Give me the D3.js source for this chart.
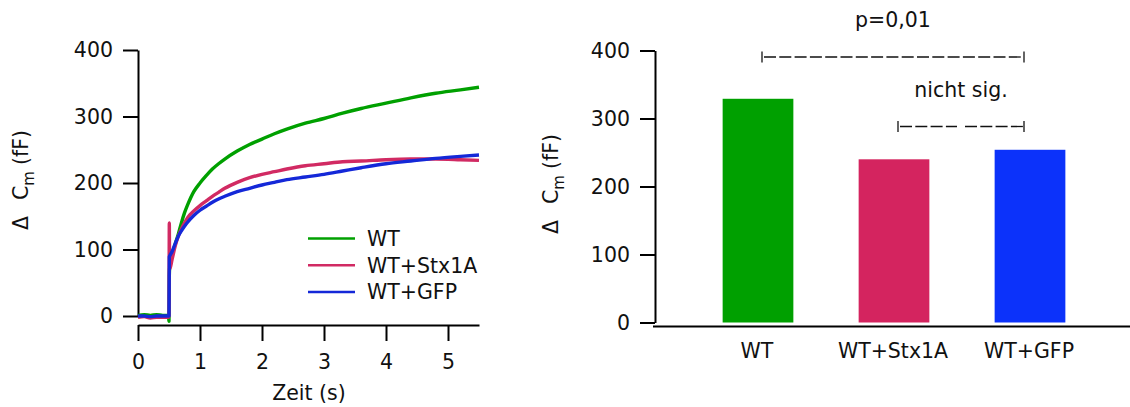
<!DOCTYPE html>
<html>
<head>
<meta charset="utf-8">
<script src="https://cdn.jsdelivr.net/npm/d3@7"></script>
<style>
  html, body { margin: 0; padding: 0; background: #fff; }
  svg { display: block; font-family: "DejaVu Sans", Verdana, sans-serif; }
</style>
</head>
<body>
<svg id="chart" width="1130" height="407"></svg>
<script>
// Capacitance traces (time in s, ΔCm in fF)
const traceTime  = [0, 0.1, 0.2, 0.3, 0.4, 0.49, 0.5, 0.505, 0.51, 0.55, 0.6, 0.65, 0.7, 0.75, 0.8, 0.9, 1.0, 1.1, 1.2, 1.3, 1.4, 1.6, 1.8, 2.0, 2.2, 2.4, 2.7, 3.0, 3.3, 3.6, 4.0, 4.4, 4.8, 5.2, 5.5];
const traceWT    = [1, 2, 1, 2, 1, 1, -8, 60, 72, 92, 108, 123, 140, 155, 167, 187, 200, 211, 221, 229, 236, 248, 258, 266, 274, 281, 290, 297, 305, 312, 320, 328, 335, 340, 344];
const traceStx1A = [-2, -1, -3, -2, -2, -2, 0, 140, 70, 85, 105, 120, 131, 140, 148, 158, 166, 173, 180, 186, 192, 201, 208, 213, 217, 221, 226, 229, 232, 233, 235, 236, 236, 235, 234];
const traceGFP   = [0, 0, -1, 0, 0, 0, 0, 89, 90, 97, 109, 120, 128, 135, 141, 151, 159, 165, 171, 176, 180, 187, 192, 197, 201, 205, 209, 213, 218, 223, 229, 233, 237, 240, 242];

// Bar summary
const categories = ["WT", "WT+Stx1A", "WT+GFP"];
const barValues  = [329, 240, 254];
const colors     = ["#00a000", "#d4245f", "#0c32fa"];
const lineColors = ["#00a000", "#d12a63", "#1428d8"];

const yTicks = [0, 100, 200, 300, 400];
const xTicks = [0, 1, 2, 3, 4, 5];

const svg = d3.select("#chart");
const FONT = 20.5;

function styleAxis(g) {
  g.select(".domain").attr("stroke-width", 2);
  g.selectAll(".tick line").attr("stroke-width", 2);
  g.selectAll(".tick text").attr("font-size", FONT).attr("font-family", "DejaVu Sans").attr("fill", "#111");
}

// ---------- Left panel: traces ----------
const xL = d3.scaleLinear().domain([0, 5.5]).range([138, 479]);
const yL = d3.scaleLinear().domain([0, 400]).range([316, 50]);

const left = svg.append("g");

left.append("g").attr("transform", "translate(138,0)")
  .call(d3.axisLeft(yL).tickValues(yTicks).tickSize(15).tickSizeOuter(0).tickPadding(10).tickFormat(d3.format("d")))
  .call(styleAxis);

left.append("g").attr("transform", "translate(0,325)")
  .call(d3.axisBottom(xL).tickValues(xTicks).tickSize(16).tickSizeOuter(0).tickPadding(13).tickFormat(d3.format("d")))
  .call(styleAxis);

left.append("text").attr("x", 309).attr("y", 400).attr("text-anchor", "middle")
  .attr("font-size", FONT).attr("fill", "#111").text("Zeit (s)");

function yLabel(g, x, y) {
  const t = g.append("text").attr("transform", `translate(${x},${y}) rotate(-90)`)
    .attr("text-anchor", "middle").attr("font-size", FONT).attr("fill", "#111");
  t.append("tspan").text("\u0394");
  t.append("tspan").attr("dx", 16).text("C");
  t.append("tspan").attr("dy", 6).attr("font-size", 15).text("m");
  t.append("tspan").attr("dy", -6).attr("dx", 6).text("(fF)");
}
yLabel(left, 28, 180);

const series = [traceWT, traceStx1A, traceGFP];
const line = d3.line().x((d, i) => xL(traceTime[i])).y(d => yL(d)).curve(d3.curveMonotoneX);
series.forEach((s, k) => {
  left.append("path").datum(s).attr("d", line)
    .attr("fill", "none").attr("stroke", lineColors[k]).attr("stroke-width", 3.4)
    .attr("stroke-linejoin", "round");
});

// Legend
const legend = left.append("g");
categories.forEach((c, k) => {
  const ly = 238.5 + k * 26.7;
  legend.append("line").attr("x1", 308).attr("x2", 355).attr("y1", ly).attr("y2", ly)
    .attr("stroke", lineColors[k]).attr("stroke-width", 2.5);
  legend.append("text").attr("x", 367).attr("y", ly + 7.5).attr("font-size", FONT)
    .attr("fill", "#111").text(c);
});

// ---------- Right panel: bars ----------
const xR = d3.scaleBand().domain(categories).range([690, 1098]).paddingInner(0.48).paddingOuter(0.24);
const yR = d3.scaleLinear().domain([0, 400]).range([322.5, 50.5]);

const right = svg.append("g");

right.append("g").attr("transform", "translate(655,0)")
  .call(d3.axisLeft(yR).tickValues(yTicks).tickSize(15).tickSizeOuter(0).tickPadding(10).tickFormat(d3.format("d")))
  .call(styleAxis);

right.append("line").attr("x1", 653).attr("x2", 1130).attr("y1", 326.5).attr("y2", 326.5)
  .attr("stroke", "#000").attr("stroke-width", 2);

yLabel(right, 558, 184);

right.selectAll("rect.bar").data(barValues).enter().append("rect")
  .attr("class", "bar")
  .attr("x", (d, i) => xR(categories[i]))
  .attr("width", xR.bandwidth())
  .attr("y", d => yR(d))
  .attr("height", d => yR(0) - yR(d))
  .attr("fill", (d, i) => colors[i]);

right.selectAll("text.cat").data(categories).enter().append("text")
  .attr("class", "cat")
  .attr("x", d => xR(d) + xR.bandwidth() / 2 - 1)
  .attr("y", 358).attr("text-anchor", "middle").attr("font-size", FONT).attr("fill", "#111")
  .text(d => d);

// Significance brackets
function dashed(g, x1, x2, y) {
  g.append("line").attr("x1", x1).attr("x2", x2).attr("y1", y).attr("y2", y)
    .attr("stroke-dasharray", "12,3.3");
}
function bracket(x1, x2, y, gap) {
  const g = right.append("g").attr("stroke", "#111").attr("stroke-width", 1.3);
  g.append("line").attr("x1", x1).attr("x2", x1).attr("y1", y - 5.5).attr("y2", y + 5.5);
  g.append("line").attr("x1", x2).attr("x2", x2).attr("y1", y - 5.5).attr("y2", y + 5.5);
  if (gap) {
    const m = (x1 + x2) / 2;
    dashed(g, x1 + 2, m - 4, y);
    dashed(g, m + 4, x2, y);
  } else {
    dashed(g, x1 + 2, x2, y);
  }
}
const cx = c => xR(c) + xR.bandwidth() / 2;
bracket(cx("WT") + 4, cx("WT+GFP") - 6, 57, false);
bracket(cx("WT+Stx1A") + 4, cx("WT+GFP") - 6, 126.5, true);

right.append("text").attr("x", 893).attr("y", 27).attr("text-anchor", "middle")
  .attr("font-size", FONT).attr("fill", "#111").text("p=0,01");
right.append("text").attr("x", 961).attr("y", 97).attr("text-anchor", "middle")
  .attr("font-size", FONT).attr("fill", "#111").text("nicht sig.");
</script>
</body>
</html>
